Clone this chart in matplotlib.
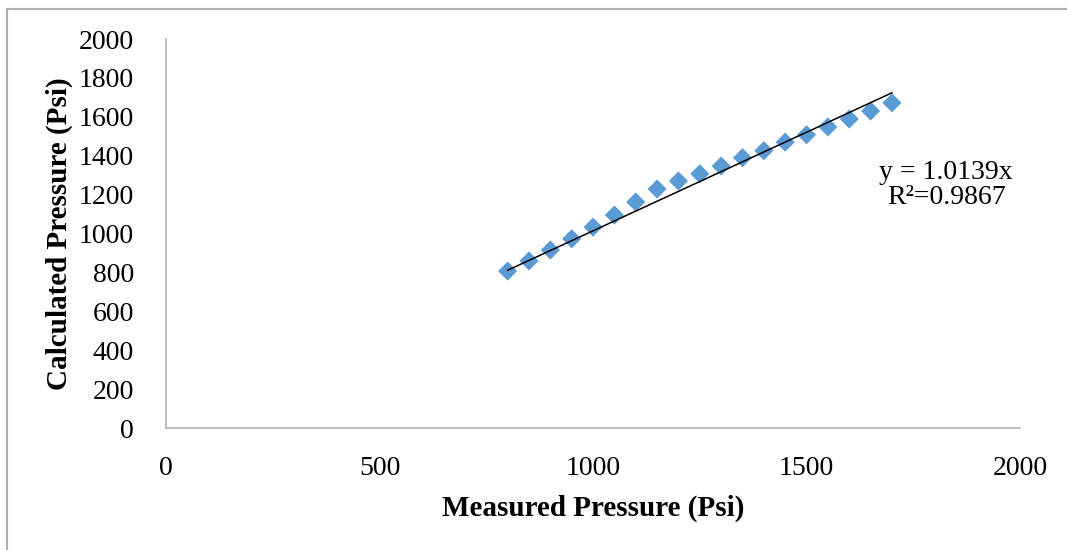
import matplotlib
matplotlib.use("Agg")
import matplotlib.pyplot as plt
from matplotlib.lines import Line2D
import numpy as np

# measured vs calculated pressure (psi)
measured = [800, 850, 900, 950, 1000, 1050, 1100, 1150, 1200, 1250,
            1300, 1350, 1400, 1450, 1500, 1550, 1600, 1650, 1700]
calculated = [807, 859, 915, 973, 1033, 1095, 1162, 1229, 1270, 1307,
              1347, 1390, 1426, 1470, 1508, 1548, 1589, 1630, 1672]
slope = 1.0139
eq_text = "y = 1.0139x\nR\u00b2=0.9867"

plt.rcParams['font.family'] = ['Liberation Serif', 'DejaVu Serif']

fig = plt.figure(figsize=(10.67, 5.5), dpi=100)
ax = fig.add_axes([0.1556, 0.2218, 0.8004, 0.7072])

ax.scatter(measured, calculated, marker='D', s=95, color='#5B9BD5',
           edgecolors='none', zorder=2)
x_fit = np.array([measured[0], measured[-1]])
ax.plot(x_fit, slope * x_fit, color='black', linewidth=1.1, zorder=3)

ax.text(1827, 1250, eq_text, fontsize=20, ha='center', va='center',
        linespacing=1.0)

ax.set_xlim(0, 2000)
ax.set_ylim(0, 2000)
ax.set_xticks(range(0, 2001, 500))
ax.set_yticks(range(0, 2001, 200))
ax.tick_params(length=0, labelsize=20)
ax.tick_params(axis='y', pad=23)
ax.tick_params(axis='x', pad=20)
for side in ['top', 'right']:
    ax.spines[side].set_visible(False)
for side in ['left', 'bottom']:
    ax.spines[side].set_color('#b3b3b3')
    ax.spines[side].set_linewidth(1.2)

ax.set_xlabel('Measured Pressure (Psi)', fontsize=21, fontweight='bold',
              labelpad=10)
ax.set_ylabel('Calculated Pressure (Psi)', fontsize=21, fontweight='bold',
              labelpad=4)

# outer chart border (only top and left edges show in the crop)
fig.add_artist(Line2D([7 / 1067, 1], [1 - 9 / 550, 1 - 9 / 550],
                      color='#b0b0b0', linewidth=1.5, transform=fig.transFigure))
fig.add_artist(Line2D([7 / 1067, 7 / 1067], [0, 1 - 9 / 550],
                      color='#b0b0b0', linewidth=1.5, transform=fig.transFigure))

fig.savefig('out.png', dpi=100)
